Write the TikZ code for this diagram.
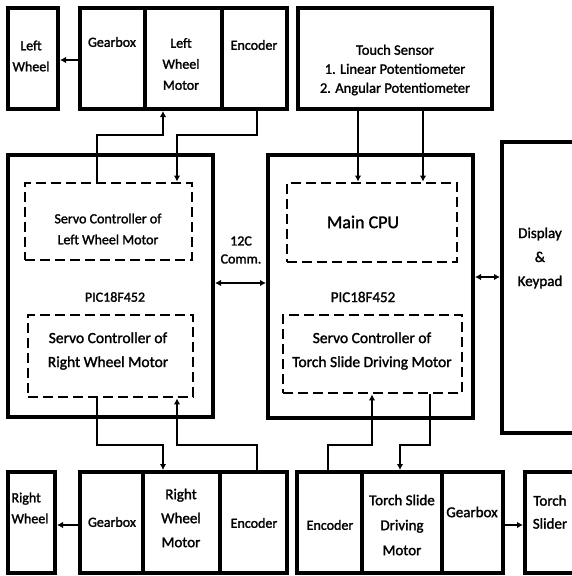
\documentclass[tikz,border=0pt]{standalone}
\usepackage{fontspec}
\setmainfont{Carlito}[FakeBold=1.6]
\usetikzlibrary{arrows.meta,fit}
\begin{document}
\begin{tikzpicture}[x=1pt,y=-1pt,
  box/.style={draw, line width=4pt, inner sep=0pt},
  dbox/.style={draw, line width=2.8pt, dash pattern=on 10pt off 5pt, inner sep=0pt},
  txt/.style={align=center, font=\fontsize{14}{21}\selectfont, inner sep=0pt},
  conn/.style={line width=2pt},
  arr/.style={conn, -{Latex[length=6pt,width=6.5pt]}},
  darr/.style={conn, {Latex[length=6pt,width=6.5pt]}-{Latex[length=6pt,width=6.5pt]}},
]
\clip (0,0) rectangle (572,576);
\fill[white] (0,0) rectangle (572,576);

% top row
\node[box, fit={(8,8) (58,109)}] (lw) {};
\node[box, fit={(80,8) (145,109)}] (gb1) {};
\node[box, fit={(145,8) (222,109)}] (lwm) {};
\node[box, fit={(222,8) (287,109)}] (enc1) {};
\node[box, fit={(298,8) (492,109)}] (ts) {};

% controllers
\node[box, fit={(8,155) (213,417)}] (pic1) {};
\node[dbox, fit={(25,183) (192,260)}] (sv1) {};
\node[dbox, fit={(28,315) (193,397)}] (sv2) {};
\node[box, fit={(268,155) (473,418)}] (pic2) {};
\node[dbox, fit={(287,183) (457,262)}] (cpu) {};
\node[dbox, fit={(283,315) (462,393)}] (sv3) {};
\node[box, fit={(502,142) (590,433)}] (disp) {};

% bottom row
\node[box, fit={(8,472) (55,573)}] (rw) {};
\node[box, fit={(80,472) (143,573)}] (gb2) {};
\node[box, fit={(143,472) (220,573)}] (rwm) {};
\node[box, fit={(220,472) (287,573)}] (enc2) {};
\node[box, fit={(297,472) (362,573)}] (enc3) {};
\node[box, fit={(362,472) (442,573)}] (tsm) {};
\node[box, fit={(442,472) (503,573)}] (gb3) {};
\node[box, fit={(525,472) (590,573)}] (tsl) {};

% texts
\node[txt] (t-lw) at (31,56) {Left\\Wheel};
\node[txt] (t-gb1) at (112,42) {Gearbox};
\node[txt] (t-lwm) at (181,64) {Left\\Wheel\\Motor};
\node[txt] (t-enc1) at (254,45) {Encoder};
\node[txt, font=\fontsize{14.5}{19}\selectfont] (t-ts) at (395,70) {Touch Sensor\\1. Linear Potentiometer\\2. Angular Potentiometer};
\node[txt] (t-sv1) at (108,229) {Servo Controller of\\Left Wheel Motor};
\node[txt] (t-pic1) at (115,297) {PIC18F452};
\node[txt, font=\fontsize{15.5}{24}\selectfont] (t-sv2) at (108,351) {Servo Controller of\\Right Wheel Motor};
\node[txt, font=\fontsize{14}{18}\selectfont] (t-i2c) at (241,250) {12C\\Comm.};
\node[txt, font=\fontsize{18}{22}\selectfont] (t-cpu) at (363,222) {Main CPU};
\node[txt, font=\fontsize{15}{21}\selectfont] (t-pic2) at (363,297) {PIC18F452};
\node[txt, font=\fontsize{15.5}{24}\selectfont] (t-sv3) at (372,351) {Servo Controller of\\Torch Slide Driving Motor};
\node[txt, font=\fontsize{15}{24}\selectfont] (t-disp) at (540,258) {Display\\\&\\Keypad};
\node[txt, align=left] (t-rw) at (30,508) {Right\\Wheel};
\node[txt] (t-gb2) at (112,522) {Gearbox};
\node[txt, font=\fontsize{15}{24}\selectfont] (t-rwm) at (181,518) {Right\\Wheel\\Motor};
\node[txt] (t-enc2) at (254,523) {Encoder};
\node[txt] (t-enc3) at (330,525) {Encoder};
\node[txt, font=\fontsize{15}{25}\selectfont] (t-tsm) at (402,525) {Torch Slide\\Driving\\Motor};
\node[txt, font=\fontsize{15}{22}\selectfont] (t-gb3) at (472,512) {Gearbox};
\node[txt, font=\fontsize{15}{23}\selectfont] (t-tsl) at (550,512) {Torch\\Slider};

% bend points
\coordinate (b1) at (97,135);  \coordinate (b2) at (163,135);
\coordinate (b3) at (257,135); \coordinate (b4) at (177,135);
\coordinate (t1) at (358,0);   \coordinate (t2) at (423,0);
\coordinate (b5) at (97,445);  \coordinate (b6) at (163,445);
\coordinate (b7) at (257,445); \coordinate (b8) at (177,445);
\coordinate (b9) at (328,445); \coordinate (b10) at (372,445);
\coordinate (b11) at (430,445); \coordinate (b12) at (400,445);
\coordinate (h1) at (0,283); \coordinate (h2) at (0,277);
\coordinate (h3) at (0,60);  \coordinate (h4) at (0,525);

% connectors
\draw[arr] (sv1.north -| b1) -- (b1) -- (b2) -- (lwm.south -| b2);
\draw[arr] (enc1.south -| b3) -- (b3) -- (b4) -- (sv1.north -| b4);
\draw[arr] (ts.south -| t1) -- (cpu.north -| t1);
\draw[arr] (ts.south -| t2) -- (cpu.north -| t2);
\draw[darr] (pic1.east |- h1) -- (pic2.west |- h1);
\draw[darr] (pic2.east |- h2) -- (disp.west |- h2);
\draw[arr] (sv2.south -| b5) -- (b5) -- (b6) -- (rwm.north -| b6);
\draw[arr] (enc2.north -| b7) -- (b7) -- (b8) -- (sv2.south -| b8);
\draw[arr] (enc3.north -| b9) -- (b9) -- (b10) -- (sv3.south -| b10);
\draw[arr] (sv3.south -| b11) -- (b11) -- (b12) -- (tsm.north -| b12);
\draw[arr] (gb1.west |- h3) -- (lw.east |- h3);
\draw[arr] (gb2.west |- h4) -- (rw.east |- h4);
\draw[arr] (gb3.east |- h4) -- (tsl.west |- h4);
\end{tikzpicture}
\end{document}
